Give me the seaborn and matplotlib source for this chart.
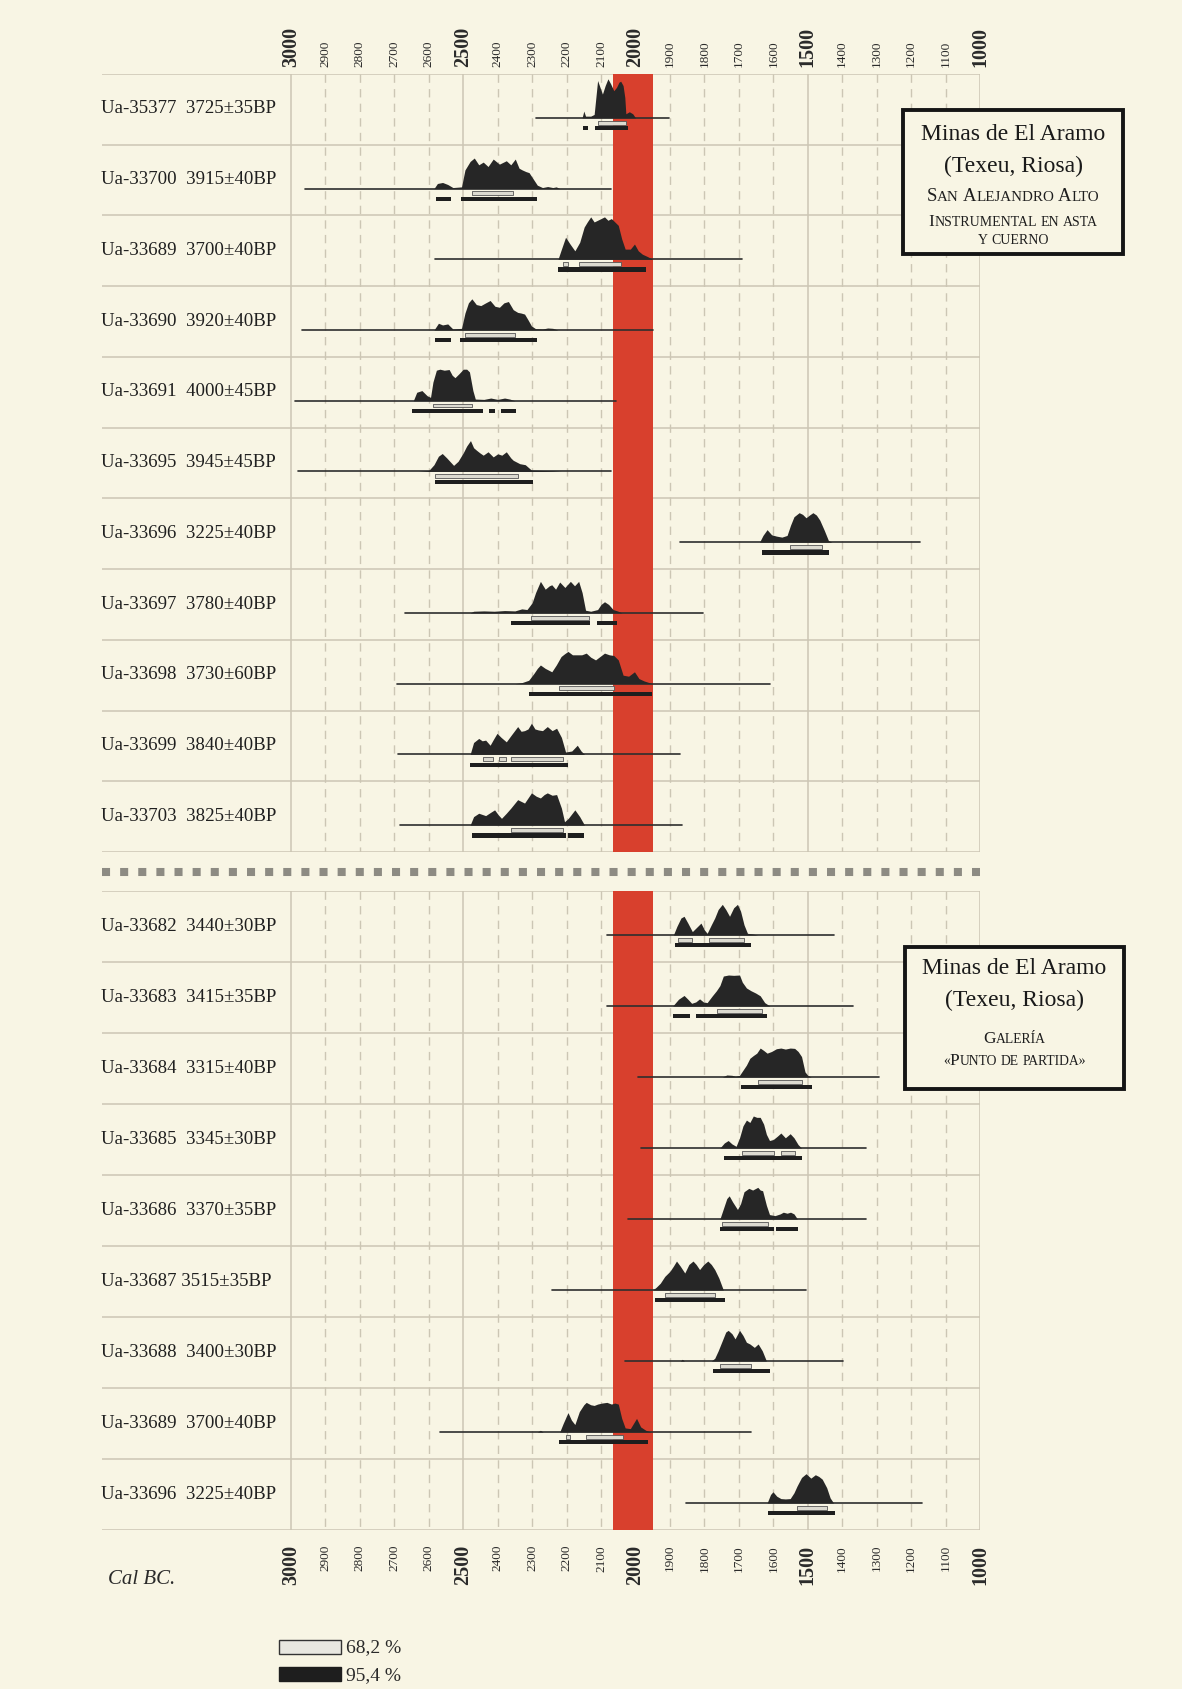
import matplotlib
matplotlib.use("Agg")
import matplotlib.pyplot as plt
import seaborn as sns
import pandas as pd
from matplotlib.patches import Rectangle
from matplotlib.lines import Line2D

# ---------------- DATA ----------------
ticks = list(range(3000, 999, -100))
major_ticks = [3000, 2500, 2000, 1500, 1000]
red_band = (2065, 1948)

top_ids = ["Ua-35377", "Ua-33700", "Ua-33689", "Ua-33690", "Ua-33691", "Ua-33695",
           "Ua-33696", "Ua-33697", "Ua-33698", "Ua-33699", "Ua-33703"]
top_bp = ["3725±35BP", "3915±40BP", "3700±40BP", "3920±40BP", "4000±45BP", "3945±45BP",
          "3225±40BP", "3780±40BP", "3730±60BP", "3840±40BP", "3825±40BP"]
top_span = [(2289, 1904), (2960, 2070), (2581, 1691), (2967, 1950), (2987, 2056), (2980, 2070),
            (1870, 1173), (2670, 1804), (2692, 1611), (2688, 1870), (2684, 1864)]
top_years = [
    [2155, 2150, 2145, 2130, 2120, 2115, 2110, 2103, 2096, 2088, 2080, 2072, 2063, 2055, 2048, 2043, 2036, 2031, 2028, 2018, 2008, 2000],
    [2585, 2575, 2560, 2545, 2530, 2505, 2495, 2480, 2468, 2455, 2442, 2428, 2413, 2395, 2375, 2362, 2349, 2338, 2329, 2318, 2309, 2298, 2285, 2270, 2255, 2240, 2230, 2220],
    [2225, 2215, 2203, 2190, 2176, 2162, 2149, 2140, 2130, 2120, 2110, 2100, 2090, 2080, 2070, 2060, 2050, 2040, 2030, 2015, 2003, 1992, 1980, 1965, 1950],
    [2585, 2572, 2560, 2545, 2530, 2505, 2495, 2485, 2475, 2462, 2449, 2435, 2422, 2408, 2395, 2382, 2369, 2355, 2342, 2332, 2322, 2312, 2302, 2290, 2270, 2255, 2240, 2225],
    [2645, 2635, 2620, 2605, 2595, 2588, 2578, 2568, 2555, 2541, 2532, 2524, 2512, 2500, 2490, 2482, 2472, 2465, 2440, 2420, 2400, 2380, 2365, 2350],
    [2630, 2600, 2585, 2572, 2561, 2548, 2528, 2515, 2500, 2490, 2479, 2470, 2462, 2452, 2442, 2428, 2413, 2400, 2388, 2375, 2362, 2355, 2336, 2320, 2302, 2270, 2240, 2215],
    [1640, 1630, 1618, 1605, 1591, 1575, 1560, 1550, 1540, 1525, 1515, 1505, 1495, 1485, 1475, 1465, 1452, 1440, 1430],
    [2480, 2470, 2440, 2410, 2380, 2350, 2330, 2315, 2300, 2290, 2276, 2262, 2250, 2243, 2232, 2220, 2205, 2189, 2177, 2165, 2155, 2145, 2130, 2110, 2100, 2090, 2078, 2065, 2050, 2040],
    [2350, 2330, 2310, 2295, 2285, 2276, 2262, 2243, 2230, 2216, 2206, 2196, 2183, 2169, 2156, 2143, 2130, 2116, 2103, 2090, 2076, 2063, 2050, 2036, 2020, 2003, 1990, 1975, 1960, 1950],
    [2480, 2470, 2455, 2445, 2435, 2422, 2412, 2402, 2390, 2375, 2362, 2342, 2332, 2322, 2312, 2302, 2292, 2282, 2270, 2256, 2242, 2229, 2215, 2203, 2185, 2169, 2158, 2148],
    [2480, 2470, 2455, 2435, 2420, 2409, 2398, 2389, 2375, 2362, 2342, 2322, 2302, 2288, 2276, 2265, 2256, 2242, 2229, 2215, 2206, 2195, 2176, 2162, 2148],
]
top_heights = [
    [0, 0.2, 0.05, 0.05, 0.1, 0.6, 1.1, 0.9, 0.7, 0.95, 1.15, 1.0, 0.8, 0.9, 1.05, 1.08, 0.95, 0.6, 0.12, 0.18, 0.12, 0],
    [0, 0.15, 0.18, 0.12, 0.03, 0.05, 0.55, 0.8, 0.9, 0.7, 0.78, 0.65, 0.87, 0.72, 0.82, 0.7, 0.87, 0.6, 0.55, 0.5, 0.47, 0.3, 0.1, 0.03, 0.06, 0.03, 0.05, 0],
    [0, 0.3, 0.65, 0.45, 0.25, 0.5, 0.95, 1.1, 1.25, 1.1, 1.15, 1.2, 1.25, 1.15, 1.2, 1.1, 1.0, 0.6, 0.3, 0.3, 0.45, 0.25, 0.15, 0.08, 0],
    [0, 0.2, 0.15, 0.18, 0.03, 0.05, 0.5, 0.8, 0.92, 0.75, 0.72, 0.8, 0.87, 0.7, 0.67, 0.8, 0.84, 0.6, 0.52, 0.5, 0.47, 0.3, 0.12, 0.04, 0.03, 0.06, 0.05, 0],
    [0, 0.25, 0.3, 0.15, 0.1, 0.55, 0.9, 0.93, 0.9, 0.92, 0.75, 0.68, 0.8, 0.93, 0.93, 0.85, 0.3, 0.05, 0.04, 0.08, 0.04, 0.08, 0.05, 0],
    [0, 0.03, 0.2, 0.45, 0.53, 0.4, 0.18, 0.3, 0.55, 0.75, 0.91, 0.7, 0.63, 0.55, 0.48, 0.58, 0.43, 0.52, 0.48, 0.58, 0.4, 0.33, 0.23, 0.2, 0.04, 0.03, 0.02, 0],
    [0, 0.2, 0.37, 0.22, 0.18, 0.15, 0.2, 0.5, 0.75, 0.87, 0.82, 0.72, 0.8, 0.87, 0.8, 0.65, 0.35, 0.05, 0],
    [0, 0.05, 0.06, 0.05, 0.07, 0.06, 0.12, 0.1, 0.3, 0.6, 0.93, 0.7, 0.8, 0.83, 0.7, 0.91, 0.75, 0.93, 0.8, 0.93, 0.6, 0.08, 0.05, 0.1, 0.25, 0.33, 0.25, 0.1, 0.05, 0],
    [0, 0.03, 0.1, 0.3, 0.45, 0.55, 0.45, 0.35, 0.55, 0.8, 0.88, 0.95, 0.85, 0.85, 0.85, 0.9, 0.78, 0.7, 0.8, 0.9, 0.85, 0.83, 0.7, 0.25, 0.22, 0.35, 0.15, 0.08, 0.03, 0],
    [0, 0.35, 0.47, 0.4, 0.42, 0.27, 0.45, 0.62, 0.5, 0.37, 0.55, 0.82, 0.68, 0.7, 0.75, 0.92, 0.75, 0.72, 0.7, 0.82, 0.7, 0.77, 0.5, 0.07, 0.1, 0.27, 0.1, 0],
    [0, 0.25, 0.35, 0.28, 0.38, 0.45, 0.3, 0.2, 0.35, 0.5, 0.75, 0.65, 0.95, 0.85, 0.8, 0.9, 0.95, 0.88, 0.9, 0.5, 0.1, 0.2, 0.45, 0.25, 0],
]
top_r68 = [[(2110, 2027)], [(2475, 2355)], [(2209, 2196), (2163, 2043)], [(2495, 2349)],
           [(2588, 2475)], [(2582, 2342)], [(1551, 1458)], [(2302, 2136)], [(2223, 2063)],
           [(2442, 2415), (2395, 2375), (2362, 2209)], [(2362, 2209)]]
top_r95 = [[(2152, 2138), (2119, 2022)], [(2579, 2535), (2506, 2286)], [(2225, 1969)],
           [(2581, 2535), (2508, 2286)], [(2648, 2442), (2426, 2409), (2391, 2346)],
           [(2582, 2298)], [(1634, 1438)], [(2362, 2133), (2112, 2053)], [(2309, 1953)],
           [(2481, 2196)], [(2475, 2203), (2196, 2149)]]

bot_ids = ["Ua-33682", "Ua-33683", "Ua-33684", "Ua-33685", "Ua-33686", "Ua-33687",
           "Ua-33688", "Ua-33689", "Ua-33696"]
bot_bp = ["3440±30BP", "3415±35BP", "3315±40BP", "3345±30BP", "3370±35BP", "3515±35BP",
          "3400±30BP", "3700±40BP", "3225±40BP"]
bot_span = [(2082, 1425), (2082, 1368), (1993, 1292), (1983, 1332), (2023, 1332),
            (2242, 1504), (2030, 1398), (2568, 1664), (1854, 1169)]
bot_years = [
    [1890, 1880, 1868, 1859, 1848, 1835, 1825, 1810, 1800, 1792, 1780, 1770, 1760, 1748, 1738, 1727, 1715, 1704, 1695, 1685, 1675, 1660, 1645],
    [1892, 1875, 1859, 1848, 1837, 1825, 1814, 1803, 1792, 1777, 1765, 1755, 1745, 1730, 1715, 1698, 1690, 1678, 1665, 1651, 1638, 1625, 1610],
    [1748, 1735, 1720, 1710, 1698, 1688, 1678, 1668, 1658, 1648, 1638, 1628, 1618, 1605, 1591, 1578, 1565, 1551, 1538, 1528, 1518, 1508, 1500, 1490],
    [1755, 1742, 1731, 1720, 1708, 1698, 1688, 1678, 1668, 1658, 1648, 1638, 1628, 1620, 1611, 1600, 1588, 1578, 1565, 1551, 1540, 1528, 1518],
    [1755, 1745, 1735, 1728, 1718, 1704, 1695, 1685, 1671, 1660, 1645, 1638, 1631, 1620, 1611, 1595, 1580, 1571, 1560, 1550, 1540, 1530],
    [1950, 1940, 1928, 1915, 1900, 1890, 1881, 1870, 1857, 1845, 1833, 1824, 1814, 1802, 1790, 1780, 1770, 1758, 1745],
    [1870, 1864, 1858, 1780, 1770, 1760, 1748, 1738, 1731, 1720, 1711, 1698, 1688, 1678, 1668, 1655, 1644, 1632, 1620],
    [2285, 2276, 2268, 2220, 2210, 2196, 2186, 2176, 2163, 2150, 2143, 2130, 2120, 2110, 2097, 2083, 2070, 2060, 2050, 2040, 2030, 2015, 2003, 1997, 1985, 1970, 1955],
    [1618, 1608, 1601, 1590, 1578, 1565, 1551, 1540, 1531, 1518, 1505, 1491, 1478, 1468, 1458, 1445, 1435, 1425],
]
bot_heights = [
    [0, 0.25, 0.5, 0.55, 0.35, 0.1, 0.2, 0.35, 0.15, 0.05, 0.3, 0.5, 0.75, 0.9, 0.75, 0.55, 0.8, 0.9, 0.7, 0.3, 0.05, 0.03, 0],
    [0, 0.2, 0.31, 0.2, 0.08, 0.12, 0.21, 0.12, 0.1, 0.3, 0.45, 0.6, 0.88, 0.91, 0.9, 0.91, 0.7, 0.53, 0.45, 0.38, 0.3, 0.1, 0],
    [0, 0.06, 0.05, 0.02, 0.05, 0.2, 0.35, 0.55, 0.63, 0.7, 0.85, 0.78, 0.7, 0.75, 0.83, 0.85, 0.82, 0.85, 0.84, 0.75, 0.6, 0.15, 0.05, 0],
    [0, 0.15, 0.22, 0.12, 0.05, 0.3, 0.65, 0.82, 0.75, 0.94, 0.9, 0.9, 0.7, 0.4, 0.22, 0.25, 0.35, 0.44, 0.3, 0.42, 0.3, 0.1, 0],
    [0, 0.3, 0.6, 0.68, 0.5, 0.28, 0.45, 0.8, 0.9, 0.85, 0.93, 0.85, 0.83, 0.4, 0.13, 0.1, 0.15, 0.2, 0.17, 0.2, 0.15, 0],
    [0, 0.08, 0.2, 0.4, 0.55, 0.7, 0.85, 0.7, 0.5, 0.75, 0.85, 0.75, 0.6, 0.75, 0.85, 0.75, 0.6, 0.35, 0],
    [0, 0.05, 0, 0, 0.08, 0.3, 0.6, 0.85, 0.9, 0.8, 0.65, 0.9, 0.75, 0.55, 0.5, 0.4, 0.5, 0.3, 0],
    [0, 0.05, 0, 0, 0.25, 0.57, 0.35, 0.22, 0.6, 0.8, 0.87, 0.8, 0.78, 0.82, 0.85, 0.87, 0.82, 0.85, 0.82, 0.4, 0.12, 0.1, 0.3, 0.4, 0.15, 0.05, 0],
    [0, 0.25, 0.33, 0.2, 0.13, 0.12, 0.13, 0.3, 0.5, 0.75, 0.86, 0.73, 0.83, 0.78, 0.7, 0.45, 0.15, 0],
]
bot_r68 = [[(1877, 1837), (1788, 1684)], [(1764, 1633)], [(1644, 1518)],
           [(1691, 1598), (1578, 1538)], [(1749, 1615)], [(1913, 1770)], [(1754, 1664)],
           [(2203, 2190), (2143, 2036)], [(1531, 1445)]]
bot_r95 = [[(1886, 1664)], [(1890, 1841), (1823, 1617)], [(1694, 1489)], [(1744, 1518)],
           [(1754, 1598), (1591, 1528)], [(1943, 1740)], [(1775, 1611)], [(2223, 1963)],
           [(1615, 1420)]]

box1_titles = ["Minas de El Aramo", "(Texeu, Riosa)"]
box1_caps = ["San Alejandro Alto", "Instrumental en asta", "y cuerno"]
box2_titles = ["Minas de El Aramo", "(Texeu, Riosa)"]
box2_caps = ["Galería", "«Punto de partida»"]
legend_labels = ["68,2 %", "95,4 %"]
axis_caption = "Cal BC."

# ---------------- STYLE ----------------
sns.set_theme(style="white")
plt.rcParams['font.family'] = ['Liberation Serif', 'DejaVu Serif']

BG = '#f8f5e4'
INK = '#262626'
GRID = '#ccc6b4'
RED = '#d8402d'

W, H = 1182, 1690
fig = plt.figure(figsize=(W / 100, H / 100), dpi=100)
fig.patch.set_facecolor(BG)

XL = 3548.6  # year at left edge of the panels (x = 102 px)


def fx(px):
    return px / W


def fy(py):
    return 1 - py / H


def make_panel(top_px, bot_px, ids, bps, spans, years, heights, r68, r95, sep, labels_on):
    ax = fig.add_axes([fx(102), fy(bot_px), fx(980) - fx(102), fy(top_px) - fy(bot_px)])
    ax.set_facecolor(BG)
    n = len(ids)
    minor = [t for t in ticks if t not in major_ticks]
    ax.vlines(minor, 0, n, colors=GRID, linewidth=1.0, linestyles=(0, (6, 4.5)), zorder=1)
    ax.vlines(major_ticks, 0, n, colors=GRID, linewidth=1.1, zorder=1)
    ax.hlines(range(n + 1), XL, 1000, colors=GRID, linewidth=1.1, zorder=1)
    ax.axvspan(red_band[0], red_band[1], color=RED, lw=0, zorder=1.5)

    S = 0.48
    base_off = 0.62
    rows = []
    for i in range(n):
        b = i + base_off
        rows.append(pd.DataFrame({'year': list(spans[i]), 'y': [b, b], 'sample': ids[i] + str(i)}))
    df = pd.concat(rows, ignore_index=True)
    sns.lineplot(data=df, x='year', y='y', units='sample', estimator=None, sort=False,
                 color='#2e2e2e', linewidth=1.2, ax=ax, legend=False, zorder=2)
    for i in range(n):
        b = i + base_off
        ax.fill_between(years[i], b, [b - h * S for h in heights[i]], color=INK, lw=0, zorder=3)
        for a, c in r68[i]:
            ax.broken_barh([(min(a, c), abs(a - c))], (b + 0.04, 0.055),
                           facecolors='#dcdad0', edgecolors='#555555', linewidth=0.6, zorder=4)
        for a, c in r95[i]:
            ax.broken_barh([(min(a, c), abs(a - c))], (b + 0.115, 0.06),
                           facecolors='#1e1e1e', edgecolors='none', zorder=4)
        lab = ids[i] + sep[i] + bps[i]
        ax.text(XL + 2, i + 0.48, lab, ha='left', va='center', fontsize=13.6, color='#1f1f1f')

    ax.set_xlim(XL, 1000)
    ax.set_ylim(n, 0)
    ax.set_xlabel('')
    ax.set_ylabel('')
    ax.set_yticks([])
    for s in ax.spines.values():
        s.set_visible(False)
    ax.set_xticks(ticks)
    ax.set_xticklabels([str(t) for t in ticks], rotation=90)
    if labels_on == 'top':
        ax.tick_params(axis='x', top=True, labeltop=True, bottom=False, labelbottom=False,
                       length=0, pad=6)
    else:
        ax.tick_params(axis='x', top=False, labeltop=False, bottom=True, labelbottom=True,
                       length=0, pad=10)
    for lbl, t in zip(ax.get_xticklabels(), ticks):
        if t in major_ticks:
            lbl.set_fontsize(14.5)
            lbl.set_fontweight('bold')
        else:
            lbl.set_fontsize(9.5)
        lbl.set_color('#2a2a2a')
    return ax


top_sep = ["  "] * len(top_ids)
bot_sep = ["  ", "  ", "  ", "  ", "  ", " ", "  ", "  ", "  "]

ax_top = make_panel(75, 853, top_ids, top_bp, top_span, top_years, top_heights,
                    top_r68, top_r95, top_sep, 'top')
ax_bot = make_panel(892, 1531, bot_ids, bot_bp, bot_span, bot_years, bot_heights,
                    bot_r68, bot_r95, bot_sep, 'bottom')

fig.add_artist(Line2D([fx(102), fx(980)], [fy(873), fy(873)], color='#8d8b83', linewidth=5.8,
                      linestyle=(0, (1.0, 1.25)), dash_capstyle='butt', solid_capstyle='butt'))

renderer = fig.canvas.get_renderer()


def smallcaps(cx_px, base_px, text, big, small):
    """Draw text in small capitals, centred at cx_px, on baseline base_px."""
    pieces = []
    words = text.split(' ')
    space_w = 0.27 * small * 100 / 72
    for wi, word in enumerate(words):
        runs = []
        for ch in word:
            size = big if ch.isupper() else small
            if runs and runs[-1][1] == size:
                runs[-1][0] += ch.upper()
            else:
                runs.append([ch.upper(), size])
        for s, size in runs:
            t = fig.text(0, fy(base_px), s, ha='left', va='baseline', fontsize=size,
                         color='#1e1e1e', zorder=11)
            w = t.get_window_extent(renderer).width
            pieces.append((t, w))
        if wi < len(words) - 1:
            pieces.append((None, space_w))
    total = sum(w for _, w in pieces)
    x = cx_px - total / 2
    for t, w in pieces:
        if t is not None:
            t.set_x(fx(x))
        x += w


def title_box(x0, y0, x1, y1, titles, title_ys, caps, caps_ys, caps_sizes):
    fig.add_artist(Rectangle((fx(x0), fy(y1)), fx(x1) - fx(x0), fy(y0) - fy(y1),
                             facecolor=BG, edgecolor='#151515', linewidth=2.8, zorder=10))
    cx = (x0 + x1) / 2
    for t, yy in zip(titles, title_ys):
        fig.text(fx(cx), fy(yy), t, ha='center', va='center', fontsize=17, color='#1a1a1a', zorder=11)
    for t, yy, (bs, ss) in zip(caps, caps_ys, caps_sizes):
        smallcaps(cx, yy, t, bs, ss)


title_box(903, 111, 1123, 255, box1_titles, [135, 166], box1_caps, [201, 226, 244],
          [(13.5, 10.8), (12.5, 10), (12.5, 10)])
title_box(905, 948, 1124, 1090, box2_titles, [969, 1000], box2_caps, [1043, 1065],
          [(12.5, 9.8), (12.5, 9.8)])

fig.text(fx(108), fy(1580), axis_caption, ha='left', va='center', fontsize=15,
         style='italic', color='#2a2a2a')
fig.add_artist(Rectangle((fx(279), fy(1655)), fx(341) - fx(279), fy(1641) - fy(1655),
                         facecolor='#e8e7e0', edgecolor='#333333', linewidth=1.0))
fig.add_artist(Rectangle((fx(279), fy(1682)), fx(341) - fx(279), fy(1668) - fy(1682),
                         facecolor='#1e1e1e', edgecolor='#1e1e1e', linewidth=1.0))
fig.text(fx(346), fy(1648), legend_labels[0], ha='left', va='center', fontsize=14, color='#2a2a2a')
fig.text(fx(346), fy(1676), legend_labels[1], ha='left', va='center', fontsize=14, color='#2a2a2a')

fig.savefig('out.png', dpi=100, facecolor=BG)
